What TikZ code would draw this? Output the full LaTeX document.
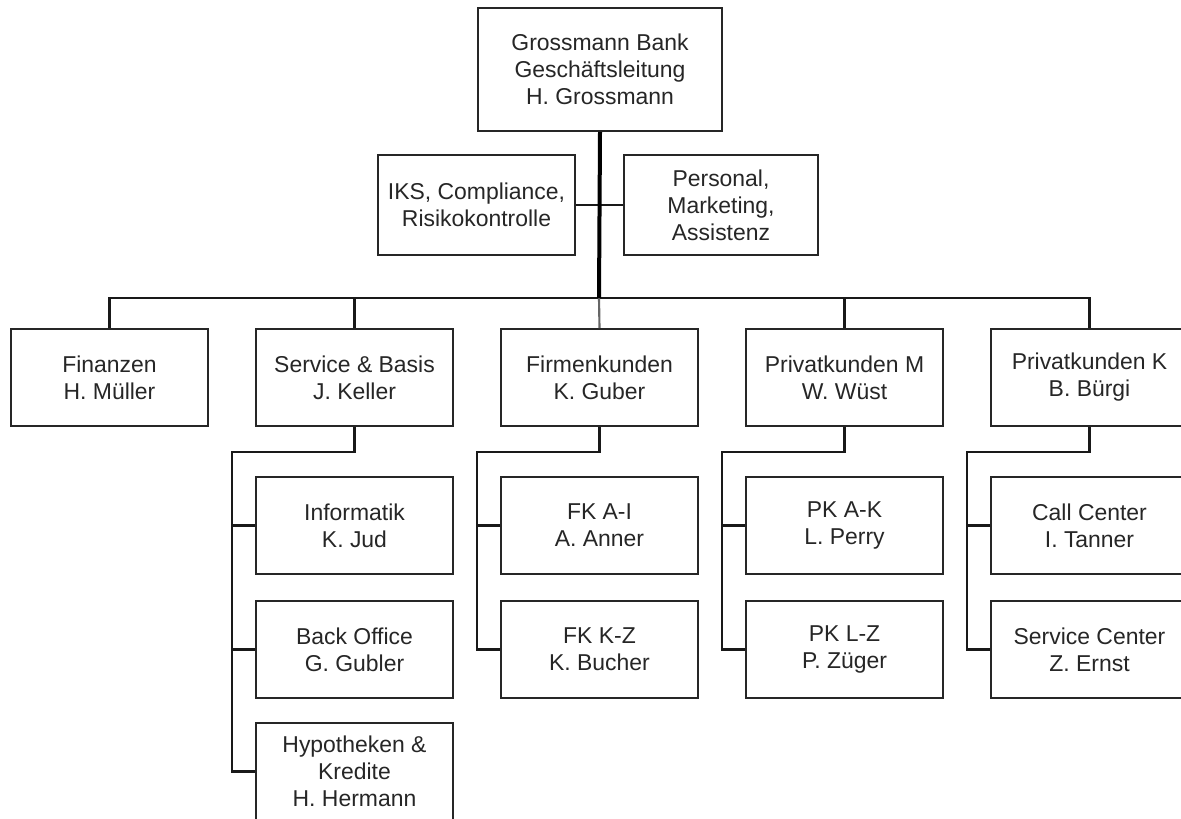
\documentclass[tikz,border=0pt]{standalone}
\usepackage{fontspec}
\setmainfont{Liberation Sans}
\begin{document}
\begin{tikzpicture}[x=0.75pt,y=-0.75pt,
  box/.style={draw=black!85,line width=1.5pt,fill=white,align=center,inner sep=0pt,
    font=\fontsize{17.2}{20.25}\selectfont,text=black!85},
  topbox/.style={box,minimum width=183pt,minimum height=92.25pt},
  sidebox/.style={box,minimum width=147.75pt,minimum height=75pt},
  unitbox/.style={box,minimum width=147.75pt,minimum height=72.75pt},
  conn/.style={draw=black!90,line width=1.6pt},
  subconn/.style={draw=black!90,line width=1.9pt},
  trunk/.style={draw=black,line width=3pt}]
\useasboundingbox (0,0) rectangle (1181,818);
\clip (0,0) rectangle (1181,818);
\fill[white] (0,0) rectangle (1181,818);
% coordinates
\coordinate (bar) at (599,298);
\coordinate (svcr) at (232,452);
\coordinate (firmr) at (477,452);
\coordinate (pkmr) at (722,452);
\coordinate (pkkr) at (967,452);
% nodes
\node[topbox] (top) at (600,69.5) {Grossmann Bank\\Geschäftsleitung\\H. Grossmann};
\node[sidebox] (iks) at (476.5,205) {IKS, Compliance,\\Risikokontrolle};
\node[sidebox,minimum width=145.5pt] (pers) at (721,205) {Personal,\\Marketing,\\Assistenz};
\node[unitbox] (fin) at (109.5,377.5) {Finanzen\\H. Müller};
\node[unitbox] (svc) at (354.5,377.5) {Service \& Basis\\J. Keller};
\node[unitbox] (firm) at (599.5,377.5) {Firmenkunden\\K. Guber};
\node[unitbox] (pkm) at (844.5,377.5) {Privatkunden M\\W. Wüst};
\node[unitbox] (pkk) at (1089.5,377.5) {Privatkunden K\\B. Bürgi};
\node[unitbox] (inf) at (354.5,525.5) {Informatik\\K. Jud};
\node[unitbox] (bo) at (354.5,649.5) {Back Office\\G. Gubler};
\node[unitbox] (hyp) at (354.5,771.5) {Hypotheken \&\\Kredite\\H. Hermann};
\node[unitbox] (fka) at (599.5,525.5) {FK A-I\\A. Anner};
\node[unitbox] (fkk) at (599.5,649.5) {FK K-Z\\K. Bucher};
\node[unitbox] (pka) at (844.5,525.5) {PK A-K\\L. Perry};
\node[unitbox] (pkl) at (844.5,649.5) {PK L-Z\\P. Züger};
\node[unitbox] (cc) at (1089.5,525.5) {Call Center\\I. Tanner};
\node[unitbox] (sc) at (1089.5,649.5) {Service Center\\Z. Ernst};
% top level connectors
\draw[conn] (iks.east) -- (pers.west);
\draw[conn] (fin.north) |- (bar);
\draw[conn] (pkk.north) |- (bar);
\draw[conn] (svc.north) -- (svc.north |- bar);
\draw[conn] (pkm.north) -- (pkm.north |- bar);
\draw[conn,draw=black!60] (firm.north) -- (bar);
\draw[trunk] (top.south) -- (bar);
% sub connectors
\draw[subconn] (svc.south) |- (svcr) |- (inf.west);
\draw[conn] (svcr) |- (bo.west);
\draw[conn] (svcr) |- (hyp.west);
\draw[subconn] (firm.south) |- (firmr) |- (fka.west);
\draw[conn] (firmr) |- (fkk.west);
\draw[subconn] (pkm.south) |- (pkmr) |- (pka.west);
\draw[conn] (pkmr) |- (pkl.west);
\draw[subconn] (pkk.south) |- (pkkr) |- (cc.west);
\draw[conn] (pkkr) |- (sc.west);
\end{tikzpicture}
\end{document}
